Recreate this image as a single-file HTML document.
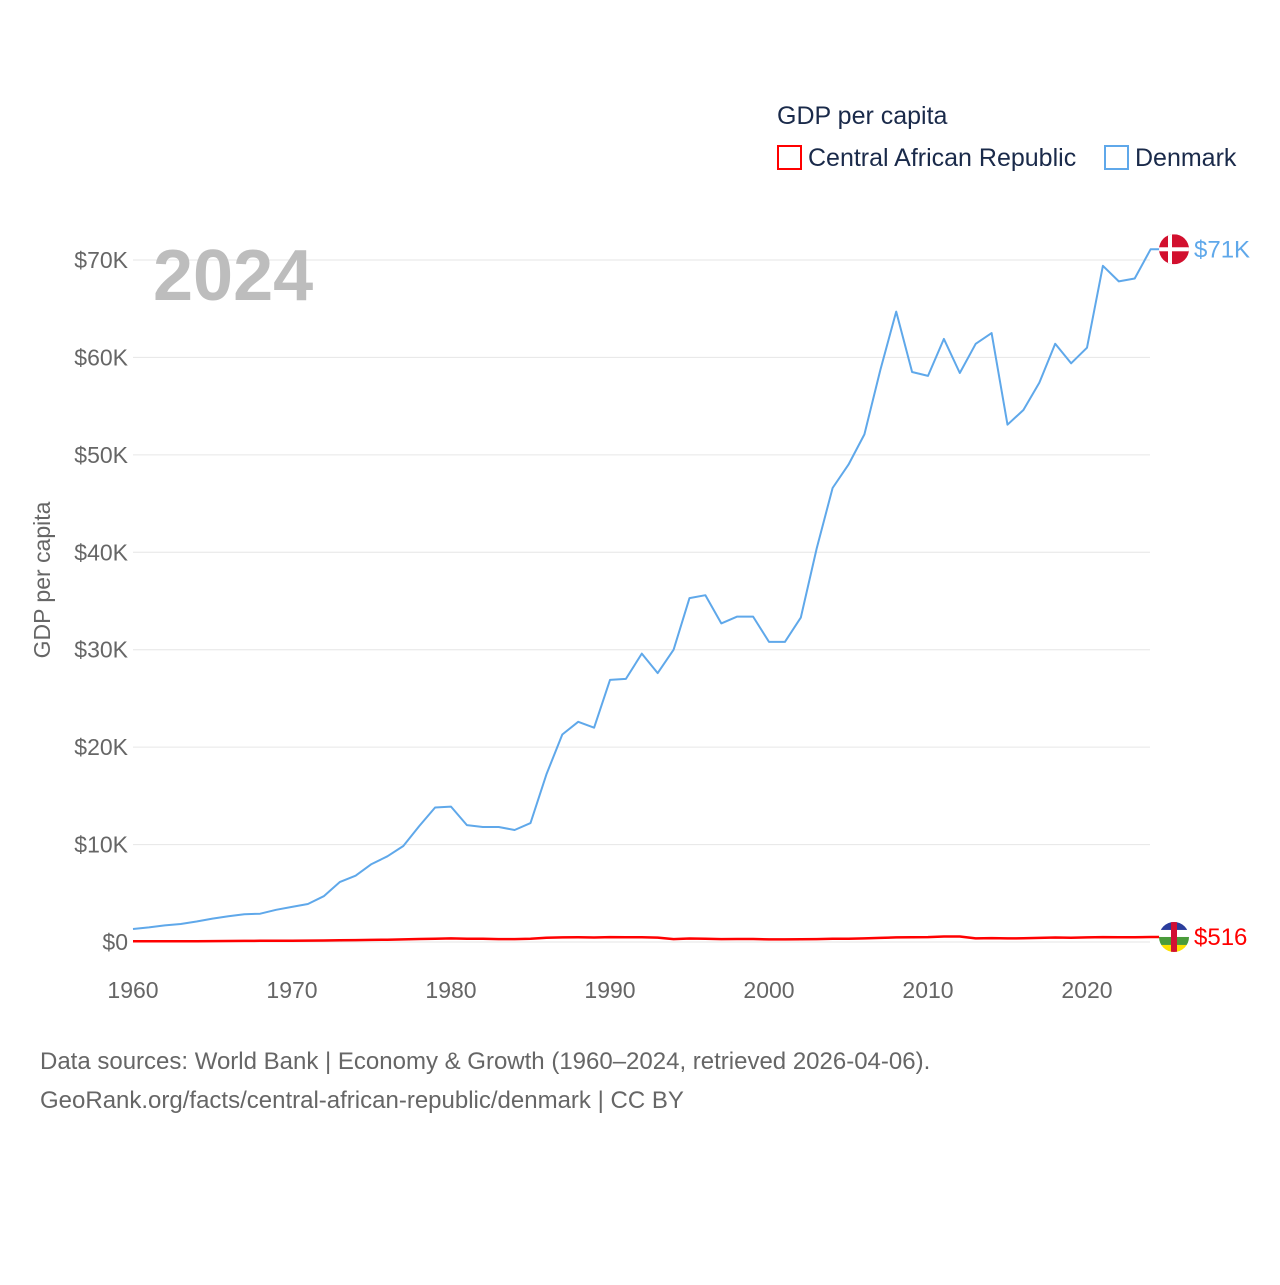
<!DOCTYPE html>
<html><head><meta charset="utf-8"><style>
body{margin:0;background:#fff;font-family:"Liberation Sans",sans-serif;}
svg text{font-family:"Liberation Sans",sans-serif;}
</style></head><body>
<svg width="1280" height="1280" viewBox="0 0 1280 1280">
<defs>
<clipPath id="c1"><circle cx="1174" cy="249" r="15"/></clipPath>
<clipPath id="c2"><circle cx="1174" cy="937" r="15"/></clipPath>
</defs>
<g>
<text x="777" y="124" font-size="25" fill="#1a2a4a">GDP per capita</text>
<rect x="778" y="146" width="23" height="23" fill="none" stroke="#f00" stroke-width="2"/>
<text x="808" y="166" font-size="25" fill="#1a2a4a">Central African Republic</text>
<rect x="1105" y="146" width="23" height="23" fill="none" stroke="#5fa8ea" stroke-width="2"/>
<text x="1135" y="166" font-size="25" fill="#1a2a4a">Denmark</text>
</g>
<g id="grid"></g>
<g id="yticks"></g>
<g id="xticks"></g>
<text x="153" y="300" font-size="72" font-weight="bold" fill="#bdbdbd">2024</text>
<text transform="translate(50,580) rotate(-90)" text-anchor="middle" font-size="23" fill="#666">GDP per capita</text>
<g id="series"></g>
<g id="ends"></g>
<text x="40" y="1069" font-size="24" fill="#666">Data sources: World Bank | Economy &amp; Growth (1960–2024, retrieved 2026-04-06).</text>
<text x="40" y="1108" font-size="24" fill="#666">GeoRank.org/facts/central-african-republic/denmark | CC BY</text>
</svg>
<script>
const years=[];for(let y=1960;y<=2024;y++)years.push(y);
const denmark=[1.33,1.5,1.7,1.85,2.1,2.4,2.65,2.85,2.9,3.3,3.6,3.9,4.7,6.15,6.8,8.0,8.8,9.85,11.9,13.8,13.9,12.0,11.8,11.8,11.5,12.2,17.2,21.3,22.6,22.0,26.9,27.0,29.6,27.6,30.0,35.3,35.6,32.7,33.4,33.4,30.8,30.8,33.3,40.4,46.6,49.0,52.1,58.7,64.7,58.5,58.1,61.9,58.4,61.4,62.5,53.1,54.6,57.4,61.4,59.4,61.0,69.4,67.8,68.1,71.1];
const car=[0.07,0.07,0.08,0.08,0.08,0.09,0.1,0.11,0.12,0.13,0.13,0.14,0.15,0.17,0.19,0.22,0.24,0.27,0.31,0.34,0.37,0.33,0.33,0.3,0.3,0.34,0.43,0.47,0.48,0.46,0.5,0.48,0.48,0.45,0.3,0.36,0.33,0.3,0.31,0.31,0.27,0.27,0.28,0.3,0.33,0.34,0.37,0.42,0.47,0.49,0.5,0.56,0.56,0.37,0.4,0.37,0.38,0.42,0.46,0.44,0.47,0.5,0.48,0.48,0.516];
const yTicks=[0,10,20,30,40,50,60,70];
const yTickLabels=["$0","$10K","$20K","$30K","$40K","$50K","$60K","$70K"];
const xTicks=[1960,1970,1980,1990,2000,2010,2020];
const ns="http://www.w3.org/2000/svg";
const X=y=>133+(y-1960)*(1087-133)/60;
const Y=v=>942-v*(942-260)/70;
function mk(tag,attrs,parent,txt){const e=document.createElementNS(ns,tag);for(const k in attrs)e.setAttribute(k,attrs[k]);if(txt!==undefined)e.textContent=txt;(typeof parent==='string'?document.getElementById(parent):parent).appendChild(e);return e;}
yTicks.forEach((t,i)=>{
 const l=mk('line',{x1:133,x2:1150,y1:Y(t),y2:Y(t),stroke:'#e6e6e6','stroke-width':1},'grid');
 
 
 const tx=mk('text',{x:128,y:Y(t)+8,'text-anchor':'end','font-size':23,fill:'#666'},'yticks',yTickLabels[i]);
 
 
});
xTicks.forEach(t=>{
 const tx=mk('text',{x:X(t),y:998,'text-anchor':'middle','font-size':23,fill:'#666'},'xticks',String(t));
 
 
});
function line(vals,color,w,name){
 const n=vals.length-1;
 const d=vals.map((v,i)=>(i?'L':'M')+X(years[i]).toFixed(1)+','+Y(v).toFixed(1)).join('')+'L'+(X(years[n])+10).toFixed(1)+','+Y(vals[n]).toFixed(1);
 const p=mk('path',{d:d,fill:'none',stroke:color,'stroke-width':w,'stroke-linejoin':'round'},'series');
 
 
}
line(denmark,'#5fa8ea',2,'denmark-line');
line(car,'#f00',2.5,'car-line');
const n=years.length-1;
let cx=1174,cy=Y(denmark[n]);
document.querySelector('#c1 circle').setAttribute('cy',cy);
const g1=mk('g',{'clip-path':'url(#c1)'},'ends');


mk('rect',{x:cx-15,y:cy-15,width:30,height:30,fill:'#d2102e'},g1);
mk('rect',{x:cx-6,y:cy-15,width:4,height:30,fill:'#fff'},g1);
mk('rect',{x:cx-15,y:cy-2,width:30,height:4,fill:'#fff'},g1);
const t1=mk('text',{x:1194,y:cy+8,'font-size':24,fill:'#5fa8ea'},'ends','$71K');


cy=Y(car[n]);
document.querySelector('#c2 circle').setAttribute('cy',cy);
const g2=mk('g',{'clip-path':'url(#c2)'},'ends');


mk('rect',{x:cx-15,y:cy-15,width:30,height:8,fill:'#2b3d9c'},g2);
mk('rect',{x:cx-15,y:cy-7,width:30,height:7,fill:'#fff'},g2);
mk('rect',{x:cx-15,y:cy,width:30,height:8,fill:'#4a9b3a'},g2);
mk('rect',{x:cx-15,y:cy+8,width:30,height:7,fill:'#fce100'},g2);
mk('rect',{x:cx-3,y:cy-15,width:6,height:30,fill:'#d21034'},g2);
const t2=mk('text',{x:1194,y:cy+8,'font-size':24,fill:'#f00'},'ends','$516');


</script>
</body></html>
